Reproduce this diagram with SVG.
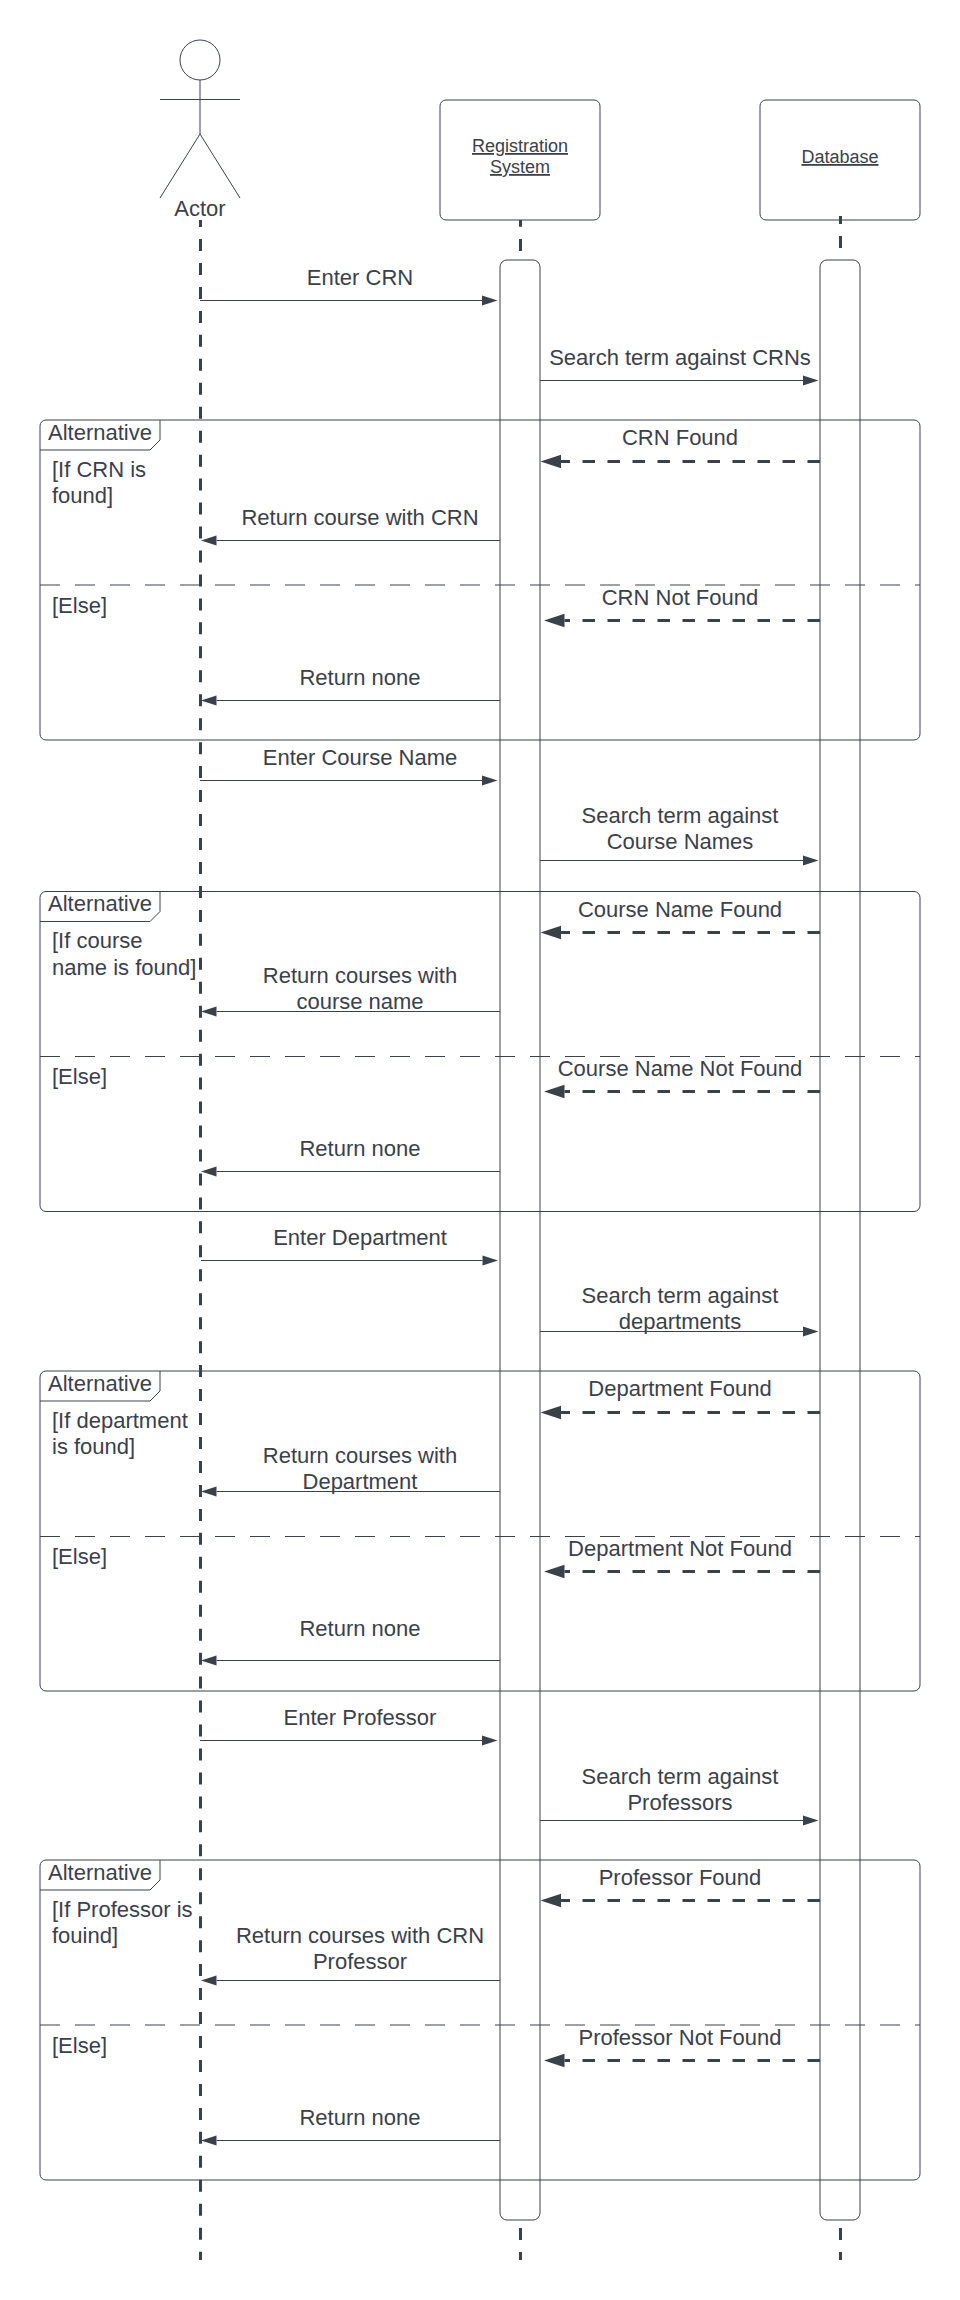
<svg xmlns="http://www.w3.org/2000/svg" width="960" height="2300" viewBox="0 0 960 2300">
<style>
text{font-family:"Liberation Sans",Arial,sans-serif;font-size:22px;fill:#3a414a}
.m{text-anchor:middle}
.box{font-size:18px;text-decoration:underline;text-anchor:middle}
.s{fill:none;stroke:#3a414a;stroke-width:1}
.w{fill:#fff;stroke:#3a414a;stroke-width:1}
.life{fill:none;stroke:#3a414a;stroke-width:3}
.msg{fill:none;stroke:#3a414a;stroke-width:1;marker-end:url(#thin)}
.ret{fill:none;stroke:#3a414a;stroke-width:3;stroke-dasharray:12.5 12.5;marker-end:url(#thick)}
.div{fill:none;stroke:#3a414a;stroke-width:1;stroke-dasharray:20 15}
</style>
<defs>
<marker id="thin" markerUnits="userSpaceOnUse" markerWidth="16" markerHeight="12" refX="0" refY="5" orient="auto" overflow="visible"><path d="M0 0L15.5 5L0 10Z" fill="#3a414a"/></marker>
<marker id="thick" markerUnits="userSpaceOnUse" markerWidth="21" markerHeight="15" refX="0" refY="6.75" orient="auto" overflow="visible"><path d="M0 0L20.5 6.75L0 13.5Z" fill="#3a414a"/></marker>
</defs>
<rect width="960" height="2300" fill="#fff"/>

<g id="actor">
<ellipse class="s" cx="200" cy="60" rx="20" ry="20"/>
<path class="s" d="M200 80V134M160 99.5H240M160 198L200 134L240 198"/>
<text class="m" x="200" y="216">Actor</text>
</g>
<g id="registration-system">
<rect class="w" x="440" y="100" width="160" height="120" rx="6"/>
<text class="box" x="520" y="152">Registration</text>
<text class="box" x="520" y="173">System</text>
</g>
<g id="database">
<rect class="w" x="760" y="100" width="160" height="120" rx="6"/>
<text class="box" x="840" y="163">Database</text>
</g>
<g id="activation-registration"><rect class="w" x="500" y="260" width="40" height="1960" rx="7"/></g>
<g id="activation-database"><rect class="w" x="820" y="260" width="40" height="1960" rx="7"/></g>

<g id="frame-crn">
<rect class="s" x="40" y="420" width="880" height="320" rx="6"/>
<path class="s" d="M40 450H150L160 440V420"/>
<path class="div" d="M40 585H920"/>
<text x="48" y="440">Alternative</text>
<text x="52" y="477">[If CRN is</text>
<text x="52" y="503">found]</text>
<text x="52" y="613">[Else]</text>
</g>
<g id="frame-course-name">
<rect class="s" x="40" y="891.5" width="880" height="320" rx="6"/>
<path class="s" d="M40 921.5H150L160 911.5V891.5"/>
<path class="div" d="M40 1056.5H920"/>
<text x="48" y="911">Alternative</text>
<text x="52" y="948">[If course</text>
<text x="52" y="975">name is found]</text>
<text x="52" y="1084">[Else]</text>
</g>
<g id="frame-department">
<rect class="s" x="40" y="1371" width="880" height="320" rx="6"/>
<path class="s" d="M40 1401H150L160 1391V1371"/>
<path class="div" d="M40 1536.5H920"/>
<text x="48" y="1391">Alternative</text>
<text x="52" y="1428">[If department</text>
<text x="52" y="1454">is found]</text>
<text x="52" y="1564">[Else]</text>
</g>
<g id="frame-professor">
<rect class="s" x="40" y="1860" width="880" height="320" rx="6"/>
<path class="s" d="M40 1890H150L160 1880V1860"/>
<path class="div" d="M40 2025H920"/>
<text x="48" y="1880">Alternative</text>
<text x="52" y="1917">[If Professor is</text>
<text x="52" y="1943">fouind]</text>
<text x="52" y="2053">[Else]</text>
</g>

<g id="connectors">
<path class="life" d="M200.5 220V227"/>
<path class="life" d="M200.5 239V2260" stroke-dasharray="12 11.96"/>
<path class="life" d="M520.5 220V226.7M520.5 239V251M520.5 2228V2240M520.5 2252V2260"/>
<path class="life" d="M840.5 216V224M840.5 236V248M840.5 2228V2240M840.5 2252V2260"/>

<path class="msg" d="M200 300.5H482"/>
<path class="msg" d="M540 380.5H803"/>
<path class="ret" d="M820 461.5H561"/>
<path class="msg" d="M500 540.5H216.5"/>
<path class="ret" d="M820 620.5H564.5"/>
<path class="msg" d="M500 700.5H216.5"/>

<path class="msg" d="M200 780.5H482"/>
<path class="msg" d="M540 860.5H803"/>
<path class="ret" d="M820 932.5H561"/>
<path class="msg" d="M500 1011.5H216.5"/>
<path class="ret" d="M820 1091.5H564.5"/>
<path class="msg" d="M500 1171.5H216.5"/>

<path class="msg" d="M201 1260.5H482.5"/>
<path class="msg" d="M540 1331.5H803"/>
<path class="ret" d="M820 1412.5H561"/>
<path class="msg" d="M500 1491.5H216.5"/>
<path class="ret" d="M820 1571.5H564.5"/>
<path class="msg" d="M500 1660.5H216.5"/>

<path class="msg" d="M200 1740.5H482"/>
<path class="msg" d="M540 1820.5H803"/>
<path class="ret" d="M820 1900.5H561"/>
<path class="msg" d="M500 1980.5H216.5"/>
<path class="ret" d="M820 2060.5H564.5"/>
<path class="msg" d="M500 2140.5H216.5"/>
</g>

<g id="connector-labels">
<text class="m" x="360" y="285">Enter CRN</text>
<text class="m" x="680" y="365">Search term against CRNs</text>
<text class="m" x="680" y="445">CRN Found</text>
<text class="m" x="360" y="525">Return course with CRN</text>
<text class="m" x="680" y="605">CRN Not Found</text>
<text class="m" x="360" y="685">Return none</text>

<text class="m" x="360" y="765">Enter Course Name</text>
<text class="m" x="680" y="823">Search term against</text>
<text class="m" x="680" y="849">Course Names</text>
<text class="m" x="680" y="917">Course Name Found</text>
<text class="m" x="360" y="983">Return courses with</text>
<text class="m" x="360" y="1009">course name</text>
<text class="m" x="680" y="1076">Course Name Not Found</text>
<text class="m" x="360" y="1156">Return none</text>

<text class="m" x="360" y="1245">Enter Department</text>
<text class="m" x="680" y="1303">Search term against</text>
<text class="m" x="680" y="1329">departments</text>
<text class="m" x="680" y="1396">Department Found</text>
<text class="m" x="360" y="1463">Return courses with</text>
<text class="m" x="360" y="1489">Department</text>
<text class="m" x="680" y="1556">Department Not Found</text>
<text class="m" x="360" y="1636">Return none</text>

<text class="m" x="360" y="1725">Enter Professor</text>
<text class="m" x="680" y="1784">Search term against</text>
<text class="m" x="680" y="1810">Professors</text>
<text class="m" x="680" y="1885">Professor Found</text>
<text class="m" x="360" y="1943">Return courses with CRN</text>
<text class="m" x="360" y="1969">Professor</text>
<text class="m" x="680" y="2045">Professor Not Found</text>
<text class="m" x="360" y="2125">Return none</text>
</g>
</svg>
